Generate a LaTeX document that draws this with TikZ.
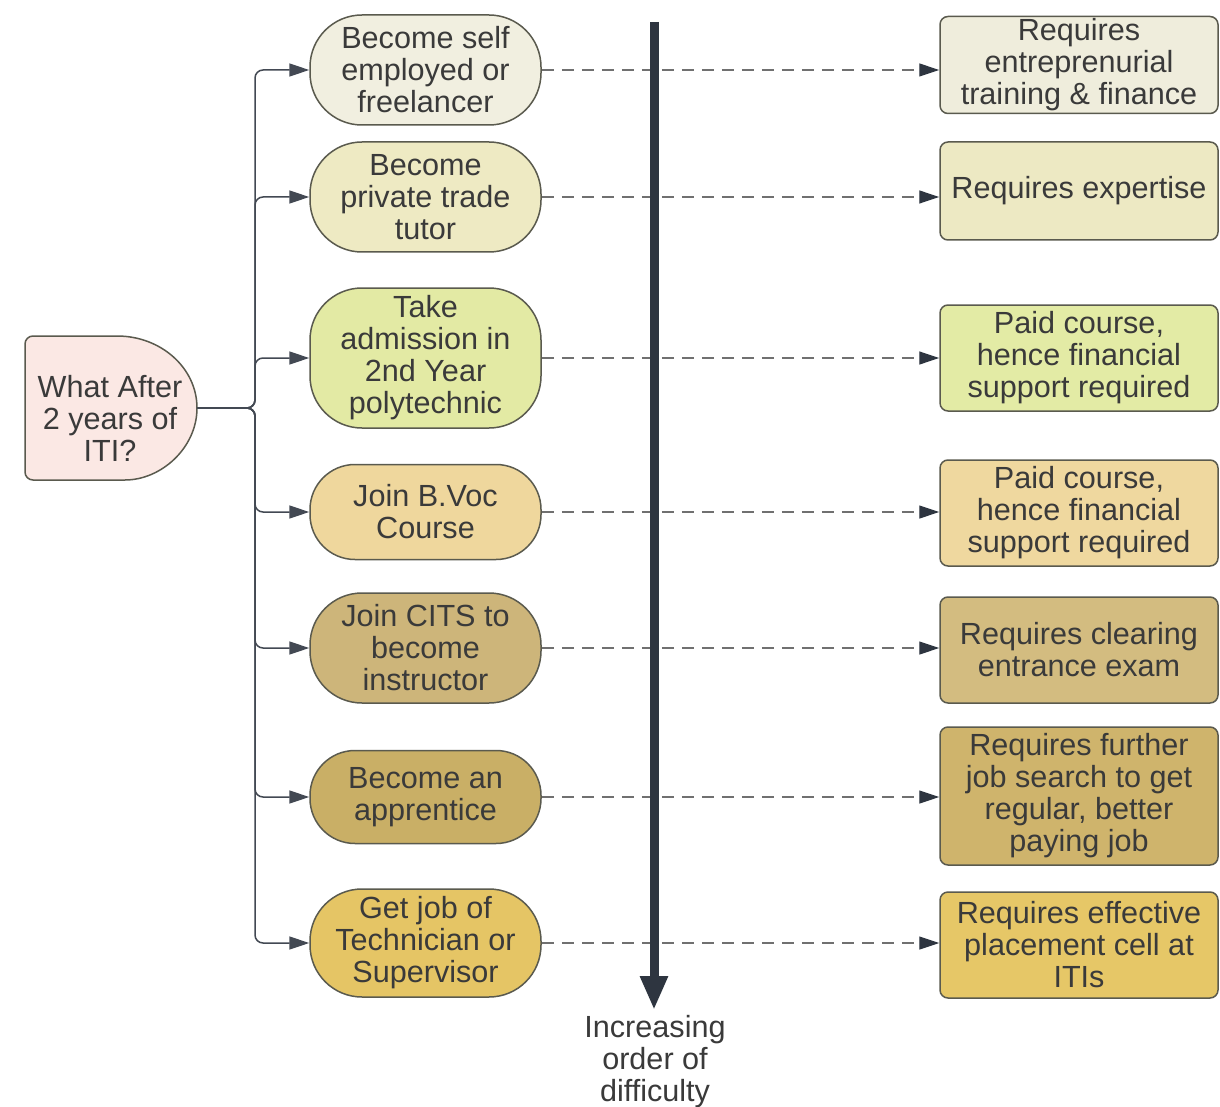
\documentclass[tikz,border=0pt]{standalone}
\usepackage{fontspec}
\setmainfont{Liberation Sans}
\usetikzlibrary{arrows.meta}
\definecolor{txt}{HTML}{3A3A3A}
\definecolor{edge}{HTML}{5A5A4E}
\definecolor{dk}{HTML}{2E3540}
\definecolor{dash}{HTML}{707070}
\definecolor{pinkc}{HTML}{FBE8E4}
\definecolor{mA}{HTML}{F1EFE0}\definecolor{rA}{HTML}{EFEDDC}
\definecolor{mB}{HTML}{EEEAC3}\definecolor{rB}{HTML}{EDE9C3}
\definecolor{mC}{HTML}{E3EAA4}\definecolor{rC}{HTML}{E3EBA5}
\definecolor{mD}{HTML}{EFD79D}\definecolor{rD}{HTML}{EFD89F}
\definecolor{mE}{HTML}{CDB57A}\definecolor{rE}{HTML}{D3BC80}
\definecolor{mF}{HTML}{C9AF66}\definecolor{rF}{HTML}{CFB46C}
\definecolor{mG}{HTML}{E5C565}\definecolor{rG}{HTML}{E6C767}
\begin{document}
\begin{tikzpicture}[x=0.5pt,y=-0.5pt,
  every node/.style={text=txt, font=\fontsize{15.3}{16}\selectfont, align=center, inner sep=0pt},
  midbox/.style={draw=edge, line width=0.75pt, rounded corners=26pt, minimum width=115.5pt},
  lowbox/.style={rounded corners=22.5pt},
  rbox/.style={draw=edge, line width=0.75pt, rounded corners=4pt, minimum width=139pt},
  conn/.style={draw=dk!90, line width=0.75pt, rounded corners=4pt, -{Triangle[length=10pt,width=6.5pt]}},
  dconn/.style={draw=dash, line width=0.6pt, dash pattern=on 6pt off 4pt, -{Triangle[length=10pt,width=6.5pt,fill=dk,color=dk]}},
]
\useasboundingbox (0,0) rectangle (1220,1107);
\fill[white] (0,0) rectangle (1220,1107);

% left start shape
\draw[draw=edge, line width=0.75pt, fill=pinkc]
  (117,480) .. controls (161.2,480) and (197,447.8) .. (197,408)
  .. controls (197,368.2) and (161.2,336) .. (117,336)
  [rounded corners=4pt] -- (25,336) -- (25,480) -- cycle;
\node[minimum width=86pt, minimum height=72pt] (q) at (111,408) {};
\node (qt) at (110,418) {What After\\2 years of\\ITI?};

% middle options
\node[midbox, fill=mA, minimum height=55pt]   (m1) at (425.5,70)  {Become self\\employed or\\freelancer};
\node[midbox, fill=mB, minimum height=55pt]   (m2) at (425.5,197) {Become\\private trade\\tutor};
\node[midbox, fill=mC, minimum height=70pt]   (m3) at (425.5,358) {Take\\admission in\\2nd Year\\polytechnic};
\node[midbox, lowbox, fill=mD, minimum height=47.5pt] (m4) at (425.5,512) {Join B.Voc\\Course};
\node[midbox, fill=mE, minimum height=55pt]   (m5) at (425.5,648) {Join CITS to\\become\\instructor};
\node[midbox, lowbox, fill=mF, minimum height=46.5pt] (m6) at (425.5,797) {Become an\\apprentice};
\node[midbox, fill=mG, minimum height=54pt]   (m7) at (425.5,943) {Get job of\\Technician or\\Supervisor};

% right requirement boxes
\node[rbox, fill=rA, minimum height=48.5pt] (r1) at (1079,65)  {Requires\\entreprenurial\\training \& finance};
\node[rbox, fill=rB, minimum height=49pt]   (r2) at (1079,191) {Requires expertise};
\node[rbox, fill=rC, minimum height=53pt]   (r3) at (1079,358) {Paid course,\\hence financial\\support required};
\node[rbox, fill=rD, minimum height=53pt]   (r4) at (1079,513) {Paid course,\\hence financial\\support required};
\node[rbox, fill=rE, minimum height=53pt]   (r5) at (1079,650) {Requires clearing\\entrance exam};
\node[rbox, fill=rF, minimum height=69pt]   (r6) at (1079,796) {Requires further\\job search to get\\regular, better\\paying job};
\node[rbox, fill=rG, minimum height=53pt]   (r7) at (1079,945) {Requires effective\\placement cell at\\ITIs};

% trunk connectors
\foreach \i in {1,...,7}{
  \draw[conn] (q.east) -- (255,408) |- (m\i.west);
}

% dashed connectors
\foreach \i in {1,...,7}{
  \draw[dconn] (m\i.east) -- (m\i.east -| r\i.west);
}

% difficulty arrow
\coordinate (atop) at (654,22);
\coordinate (abot) at (654,1010);
\draw[dk, line width=4.5pt, -{Triangle[length=17pt,width=13pt]}] (atop) -- (abot);
\node (lab) at (655,1062) {Increasing\\order of\\difficulty};
\end{tikzpicture}
\end{document}
